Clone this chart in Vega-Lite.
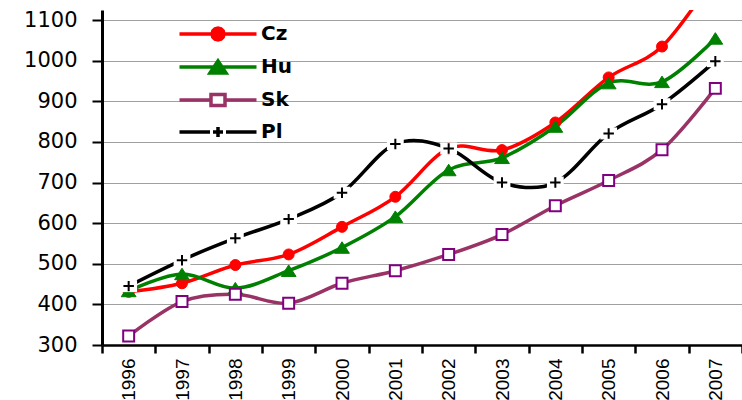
{
  "$schema": "https://vega.github.io/schema/vega-lite/v6.json",
  "width": 640,
  "height": 335,
  "autosize": {"type": "none"},
  "padding": {"left": 102, "top": 10, "right": 0, "bottom": 55},
  "background": "white",
  "config": {"view": {"stroke": null}, "font": "DejaVu Sans"},
  "data": {"values": [
    {"year": "1996", "series": "Cz", "value": 431},
    {"year": "1997", "series": "Cz", "value": 452},
    {"year": "1998", "series": "Cz", "value": 497},
    {"year": "1999", "series": "Cz", "value": 523},
    {"year": "2000", "series": "Cz", "value": 591},
    {"year": "2001", "series": "Cz", "value": 665},
    {"year": "2002", "series": "Cz", "value": 784},
    {"year": "2003", "series": "Cz", "value": 780},
    {"year": "2004", "series": "Cz", "value": 848},
    {"year": "2005", "series": "Cz", "value": 959},
    {"year": "2006", "series": "Cz", "value": 1035},
    {"year": "2007", "series": "Cz", "value": 1210},
    {"year": "1996", "series": "Hu", "value": 433},
    {"year": "1997", "series": "Hu", "value": 475},
    {"year": "1998", "series": "Hu", "value": 440},
    {"year": "1999", "series": "Hu", "value": 483},
    {"year": "2000", "series": "Hu", "value": 540},
    {"year": "2001", "series": "Hu", "value": 616},
    {"year": "2002", "series": "Hu", "value": 731},
    {"year": "2003", "series": "Hu", "value": 761},
    {"year": "2004", "series": "Hu", "value": 838},
    {"year": "2005", "series": "Hu", "value": 945},
    {"year": "2006", "series": "Hu", "value": 948},
    {"year": "2007", "series": "Hu", "value": 1055},
    {"year": "1996", "series": "Sk", "value": 322},
    {"year": "1997", "series": "Sk", "value": 407},
    {"year": "1998", "series": "Sk", "value": 425},
    {"year": "1999", "series": "Sk", "value": 403},
    {"year": "2000", "series": "Sk", "value": 452},
    {"year": "2001", "series": "Sk", "value": 483},
    {"year": "2002", "series": "Sk", "value": 523},
    {"year": "2003", "series": "Sk", "value": 572},
    {"year": "2004", "series": "Sk", "value": 643},
    {"year": "2005", "series": "Sk", "value": 705},
    {"year": "2006", "series": "Sk", "value": 781},
    {"year": "2007", "series": "Sk", "value": 932},
    {"year": "1996", "series": "Pl", "value": 445},
    {"year": "1997", "series": "Pl", "value": 509},
    {"year": "1998", "series": "Pl", "value": 563},
    {"year": "1999", "series": "Pl", "value": 610},
    {"year": "2000", "series": "Pl", "value": 675},
    {"year": "2001", "series": "Pl", "value": 795},
    {"year": "2002", "series": "Pl", "value": 784},
    {"year": "2003", "series": "Pl", "value": 700},
    {"year": "2004", "series": "Pl", "value": 700},
    {"year": "2005", "series": "Pl", "value": 821},
    {"year": "2006", "series": "Pl", "value": 893},
    {"year": "2007", "series": "Pl", "value": 999}
  ]},
  "encoding": {
    "x": {
      "field": "year", "type": "ordinal",
      "scale": {"type": "band", "paddingInner": 0, "paddingOuter": 0},
      "axis": {
        "title": null, "labelAngle": 270, "labelFontSize": 19, "labelColor": "black",
        "labelFont": "Liberation Sans", "labelPadding": 5,
        "tickBand": "extent", "tickSize": 8, "tickWidth": 2.5, "tickColor": "black",
        "domainColor": "black", "domainWidth": 2.5, "grid": false
      }
    },
    "y": {
      "field": "value", "type": "quantitative",
      "scale": {"domain": [300, 1125], "nice": false, "zero": false},
      "axis": {
        "title": null, "values": [300, 400, 500, 600, 700, 800, 900, 1000, 1100], "format": "d",
        "labelFontSize": 21, "labelColor": "black", "labelFont": "DejaVu Sans", "labelPadding": 15,
        "tickSize": 10, "tickWidth": 2, "tickColor": "black",
        "domainColor": "black", "domainWidth": 3,
        "grid": true, "gridColor": "#a0a0a0", "gridWidth": 1.2
      }
    }
  },
  "layer": [
    {
      "mark": {"type": "line", "interpolate": "cardinal", "strokeWidth": 3.5, "clip": true},
      "encoding": {
        "color": {
          "field": "series", "type": "nominal",
          "scale": {"domain": ["Cz", "Hu", "Sk", "Pl"], "range": ["#FF0000", "#008000", "#993366", "#000000"]},
          "legend": {
            "title": null, "orient": "none", "legendX": 104, "legendY": 12, "padding": 0,
            "symbolSize": 100, "labelOffset": 31, "rowPadding": 7,
            "labelFont": "DejaVu Sans", "labelFontWeight": "bold", "labelFontSize": 20, "labelColor": "black",
            "encode": {
              "symbols": {
                "update": {
                  "shape": {"signal": "datum.value === 'Cz' ? 'M-3.85,0H3.85M0.6,0L0.52,0.3L0.3,0.52L0,0.6L-0.3,0.52L-0.52,0.3L-0.6,0L-0.52,-0.3L-0.3,-0.52L0,-0.6L0.3,-0.52L0.52,-0.3Z' : datum.value === 'Hu' ? 'M-3.85,0H3.85M0,-0.6L0.8,0.6L-0.8,0.6Z' : datum.value === 'Sk' ? 'M-3.85,0H-0.7M0.7,0H3.85M-0.7,-0.55H0.7V0.55H-0.7Z' : 'M-3.85,0H-0.8M0.8,0H3.85M-0.5,0H0.5M0,-0.5V0.5'"},
                  "fill": {"signal": "datum.value === 'Cz' ? '#FF0000' : datum.value === 'Hu' ? '#008000' : datum.value === 'Sk' ? '#FFFFFF' : 'transparent'"},
                  "strokeWidth": {"value": 3.5},
                  "size": {"value": 400},
                  "opacity": {"value": 1}
                }
              }
            }
          }
        }
      }
    },
    {
      "transform": [{"filter": "datum.series === 'Cz'"}],
      "mark": {"type": "point", "shape": "circle", "size": 120, "filled": true, "fill": "#FF0000", "stroke": "#FF0000", "strokeWidth": 1, "opacity": 1, "clip": true},
      "encoding": {}
    },
    {
      "transform": [{"filter": "datum.series === 'Hu'"}],
      "mark": {"type": "point", "shape": "M0,-1.05L1.35,1.05L-1.35,1.05Z", "size": 120, "filled": true, "fill": "#008000", "stroke": "#008000", "strokeWidth": 1, "opacity": 1, "clip": true},
      "encoding": {}
    },
    {
      "transform": [{"filter": "datum.series === 'Sk'"}],
      "mark": {"type": "point", "shape": "square", "size": 120, "filled": true, "fill": "#FFFFFF", "stroke": "#800080", "strokeWidth": 2, "opacity": 1, "clip": true},
      "encoding": {}
    },
    {
      "transform": [{"filter": "datum.series === 'Pl'"}],
      "mark": {"type": "point", "shape": "M-1.4,-1H1.4V1H-1.4Z", "size": 144, "filled": true, "fill": "white", "opacity": 1, "strokeWidth": 0, "clip": true},
      "encoding": {}
    },
    {
      "transform": [{"filter": "datum.series === 'Pl'"}],
      "mark": {"type": "point", "shape": "M-1,0H1M0,-1V1", "size": 110, "filled": false, "stroke": "black", "strokeWidth": 2, "opacity": 1, "clip": true},
      "encoding": {}
    }
  ]
}
